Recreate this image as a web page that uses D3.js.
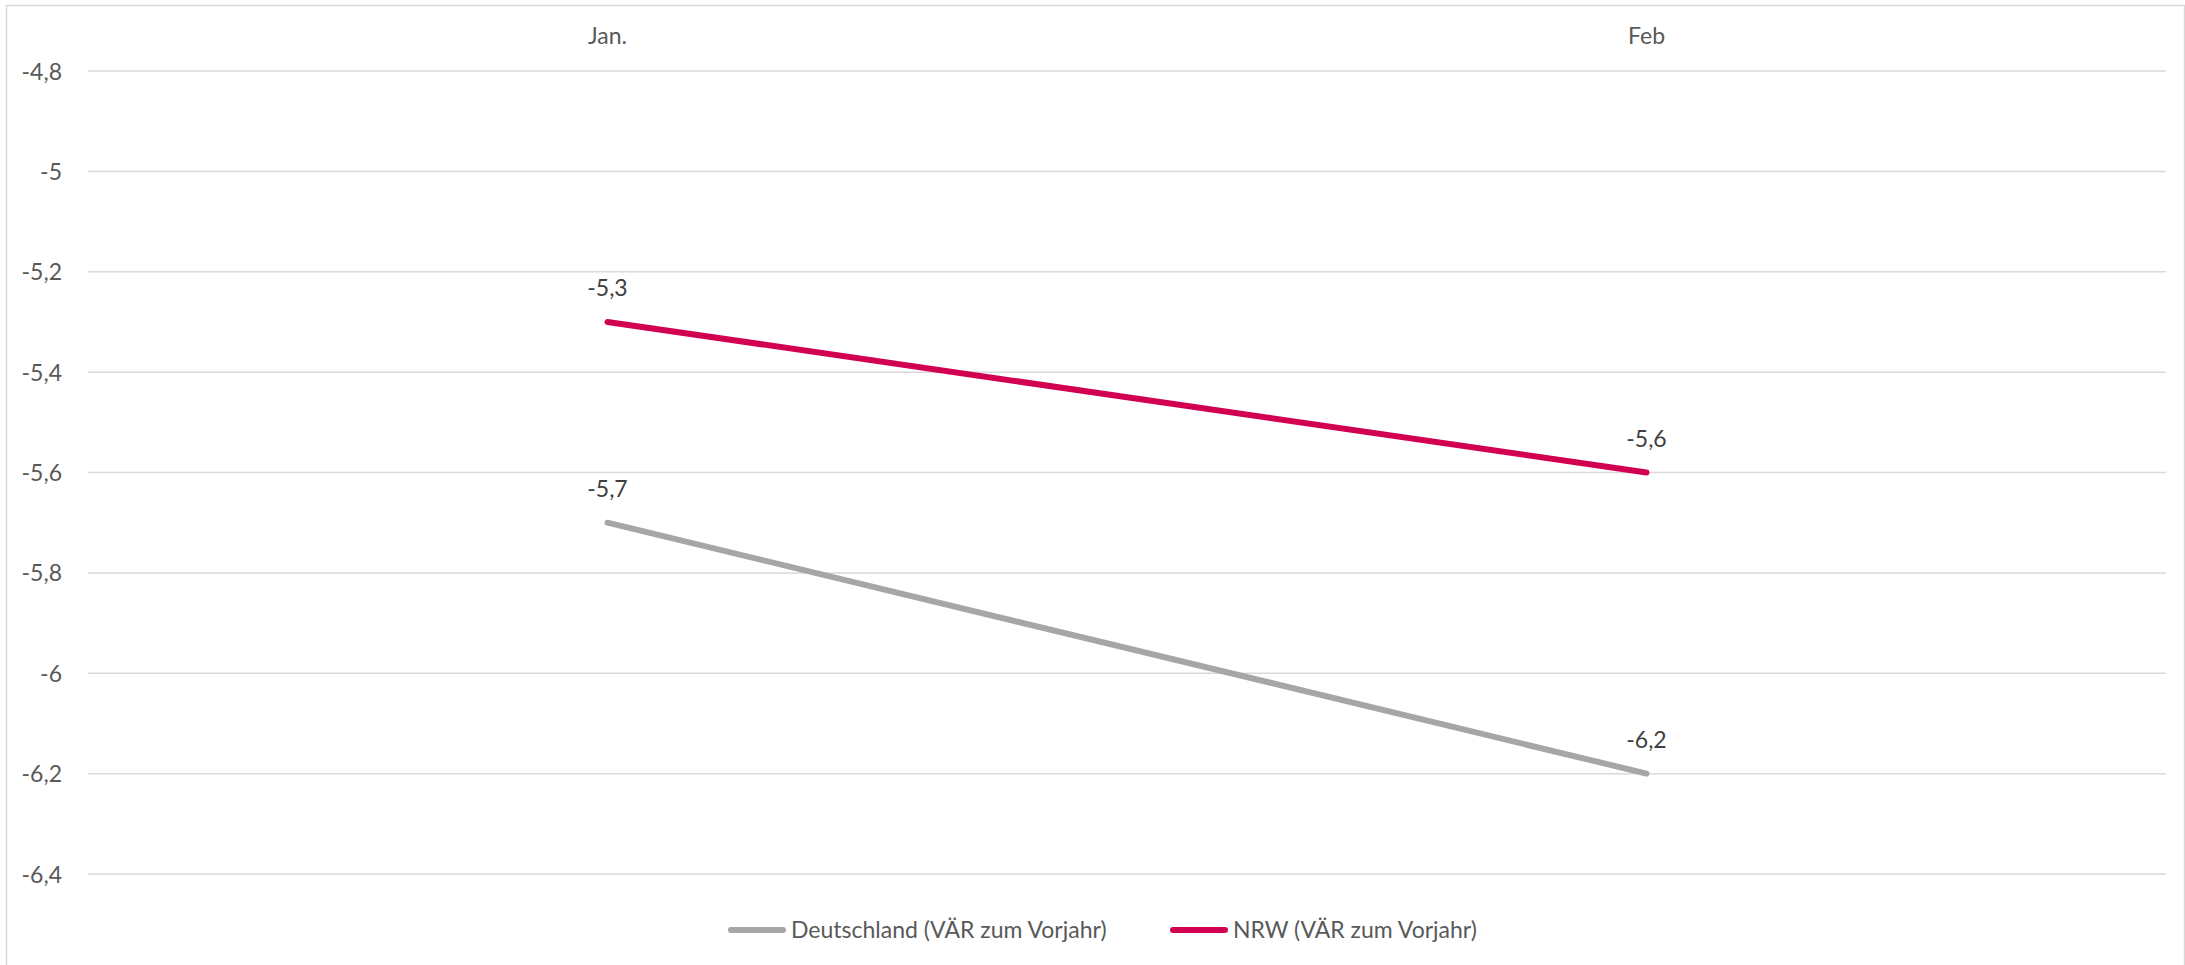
<!DOCTYPE html>
<html><head><meta charset="utf-8">
<script src="https://cdn.jsdelivr.net/npm/d3@7"></script>
<style>html,body{margin:0;padding:0;background:#fff;}svg{display:block;}</style>
</head><body>
<script>
const categories = ["Jan.", "Feb"];
const seriesNames = ["Deutschland (VÄR zum Vorjahr)", "NRW (VÄR zum Vorjahr)"];
const deutschland = [-5.7, -6.2];
const nrw = [-5.3, -5.6];
const yTicks = [-4.8, -5, -5.2, -5.4, -5.6, -5.8, -6, -6.2, -6.4];
const colors = ["#a6a6a6", "#d20050"];

const W = 2185, H = 965;
const FONT = "Lato, 'Open Sans', sans-serif";
const svg = d3.select("body").append("svg").attr("width", W).attr("height", H);
svg.append("rect").attr("x", 6.5).attr("y", 5.5).attr("width", W - 7).attr("height", H + 10)
  .attr("fill", "#fff").attr("stroke", "#d9d9d9").attr("stroke-width", 1.5);

const x = d3.scaleBand().domain(categories).range([88, 2166]);
const y = d3.scaleLinear().domain([-4.8, -6.4]).range([71, 874]);
const fmt = v => String(v).replace(".", ",");

// gridlines
svg.append("g").selectAll("line").data(yTicks).join("line")
  .attr("x1", 88).attr("x2", 2166).attr("y1", d => y(d)).attr("y2", d => y(d))
  .attr("stroke", "#d9d9d9").attr("stroke-width", 1.5);

// y axis labels
const yAxis = d3.axisLeft(y).tickValues(yTicks).tickFormat(fmt).tickSize(0).tickPadding(0);
const gy = svg.append("g").attr("transform", "translate(62,0)").call(yAxis);
gy.select(".domain").remove();
gy.selectAll("text").attr("font-family", FONT).attr("font-size", 23).attr("fill", "#595959").attr("dy", "0.35em");

// x axis labels (top)
const xAxis = d3.axisTop(x).tickSize(0).tickPadding(0);
const gx = svg.append("g").attr("transform", "translate(0,44)").call(xAxis);
gx.select(".domain").remove();
gx.selectAll("text").attr("font-family", FONT).attr("font-size", 23).attr("fill", "#595959").attr("dy", 0);

const cx = c => x(c) + x.bandwidth() / 2;
const series = [deutschland, nrw];
const line = d3.line().x((d, i) => cx(categories[i])).y(d => y(d));
series.forEach((s, k) => {
  svg.append("path").datum(s).attr("d", line).attr("fill", "none")
    .attr("stroke", colors[k]).attr("stroke-width", 6).attr("stroke-linecap", "round");
  svg.append("g").selectAll("text").data(s).join("text")
    .attr("x", (d, i) => cx(categories[i])).attr("y", d => y(d) - 26)
    .attr("text-anchor", "middle").attr("font-family", FONT).attr("font-size", 23)
    .attr("fill", "#404040").text(fmt);
});

// legend
const legendItems = [{x: 731, name: seriesNames[0], c: colors[0]}, {x: 1173, name: seriesNames[1], c: colors[1]}];
const lg = svg.append("g");
legendItems.forEach(it => {
  lg.append("line").attr("x1", it.x).attr("x2", it.x + 52).attr("y1", 930).attr("y2", 930)
    .attr("stroke", it.c).attr("stroke-width", 6).attr("stroke-linecap", "round");
  lg.append("text").attr("x", it.x + 60).attr("y", 930).attr("dy", "0.35em")
    .attr("font-family", FONT).attr("font-size", 23).attr("fill", "#595959").text(it.name);
});
</script>
</body></html>
